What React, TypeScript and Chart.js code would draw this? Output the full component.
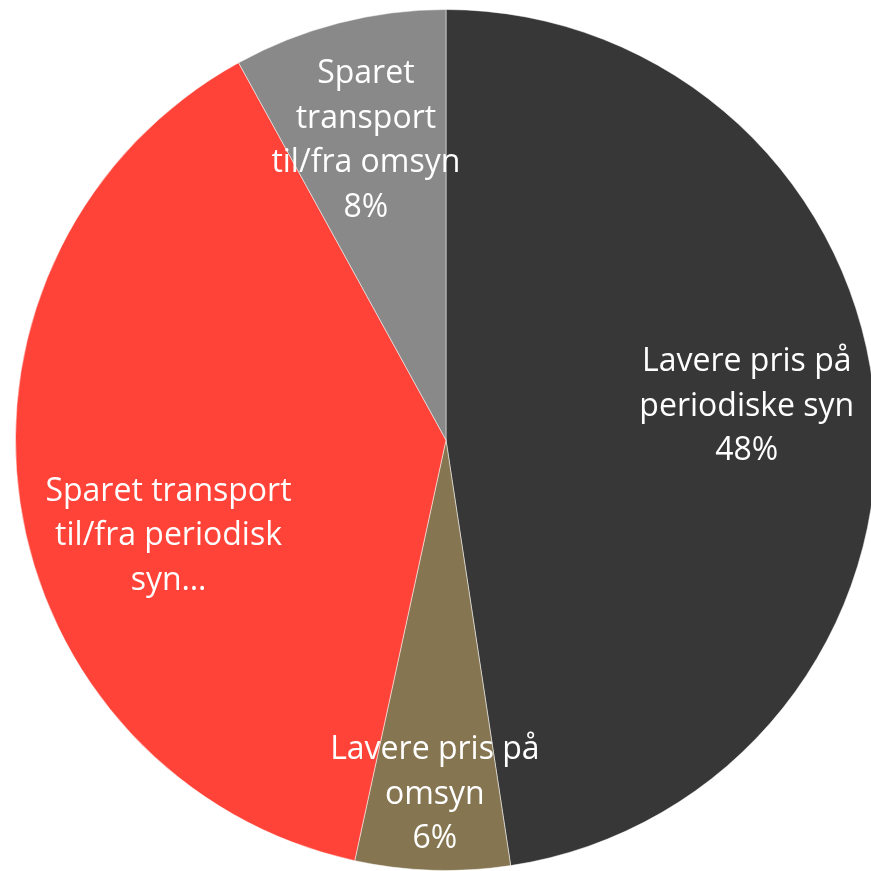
import React, { useEffect, useRef } from "react";
import { Chart, registerables } from "chart.js";

Chart.register(...registerables);

const categories = [
  "Lavere pris på periodiske syn",
  "Lavere pris på omsyn",
  "Sparet transport til/fra periodiske syn",
  "Sparet transport til/fra omsyn",
];
const values = [47.6, 5.8, 38.6, 8.0];
const labelLines = [
  ["Lavere pris på", "periodiske syn", "48%"],
  ["Lavere pris på", "omsyn", "6%"],
  ["Sparet transport", "til/fra periodisk", "syn…"],
  ["Sparet", "transport", "til/fra omsyn", "8%"],
];
const colors = ["#373737", "#857550", "#FF4338", "#898989"];

// label placement: radial factor and angle offset (degrees) per slice
const labelRadius = [0.703, 0.824, 0.682, 0.719];
const labelAngleOffset = [-2, 0, -10.8, -0.6];

const sliceLabels = {
  id: "sliceLabels",
  afterDatasetsDraw(chart: any) {
    const ctx = chart.ctx;
    const meta = chart.getDatasetMeta(0);
    ctx.save();
    ctx.fillStyle = "#ffffff";
    ctx.font = "32px 'Open Sans'";
    ctx.textAlign = "center";
    ctx.textBaseline = "middle";
    const lh = 44.5;
    meta.data.forEach((arc: any, i: number) => {
      const p = arc.getProps(["x", "y", "startAngle", "endAngle", "outerRadius"], true);
      const mid = (p.startAngle + p.endAngle) / 2 + (labelAngleOffset[i] * Math.PI) / 180;
      const d = p.outerRadius * labelRadius[i];
      const cx = p.x + Math.cos(mid) * d;
      const cy = p.y + Math.sin(mid) * d;
      const lines = labelLines[i];
      const top = cy - ((lines.length - 1) * lh) / 2;
      lines.forEach((t, j) => ctx.fillText(t, cx, top + j * lh));
    });
    ctx.restore();
  },
};

export default function App() {
  const ref = useRef<HTMLCanvasElement>(null);
  useEffect(() => {
    if (!ref.current) return;
    const chart = new Chart(ref.current, {
      type: "pie",
      data: {
        labels: categories,
        datasets: [
          {
            data: values,
            backgroundColor: colors,
            borderColor: "rgba(255,255,255,0.5)",
            borderWidth: 1,
          },
        ],
      },
      options: {
        responsive: false,
        animation: false,
        layout: { padding: 9 },
        plugins: {
          legend: { display: false },
          tooltip: { enabled: false },
        },
      },
      plugins: [sliceLabels],
    });
    return () => chart.destroy();
  }, []);
  return (
    <div
      style={{
        position: "fixed",
        left: 0,
        top: 0,
        width: 871,
        height: 871,
        overflow: "hidden",
        background: "#ffffff",
      }}
    >
      <canvas
        ref={ref}
        width={892}
        height={880}
        style={{ position: "absolute", left: 0, top: 0, width: 892, height: 880 }}
      />
    </div>
  );
}
